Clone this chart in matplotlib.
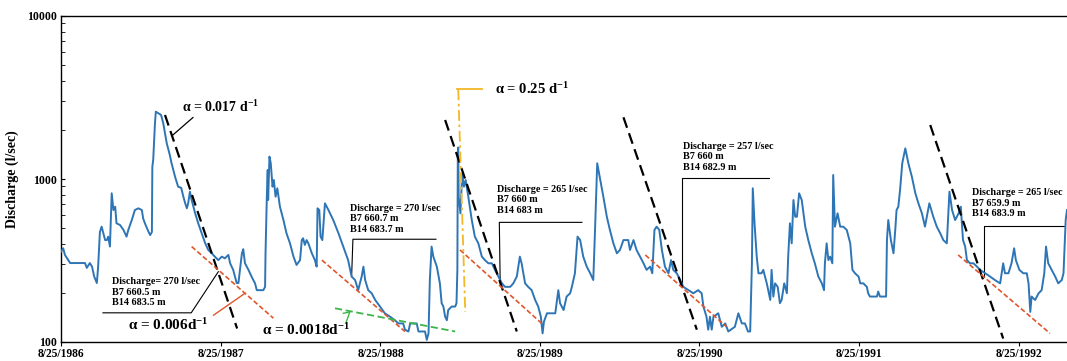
import numpy as np
import matplotlib
matplotlib.use('Agg')
import matplotlib.pyplot as plt

plt.rcParams['font.family'] = ['Liberation Serif', 'DejaVu Serif']
plt.rcParams['font.weight'] = 'bold'
plt.rcParams['mathtext.fontset'] = 'custom'
plt.rcParams['mathtext.rm'] = 'Liberation Serif:bold'
plt.rcParams['mathtext.bf'] = 'Liberation Serif:bold'
plt.rcParams['mathtext.it'] = 'Liberation Serif:italic:bold'

start = np.datetime64('1986-08-25')

# daily discharge (days after 8/25/1986, l/sec)
day = [0, 5, 9, 21, 55, 59, 66, 71, 76, 82, 85, 89, 93, 101, 105, 108, 112, 116, 120, 124,
       127, 135, 143, 150, 154, 162, 169, 177, 185, 188, 192, 200, 204, 208, 209, 211, 215, 217, 223, 229,
       234, 242, 249, 253, 261, 268, 275, 280, 284, 288, 291, 295, 299, 307, 314, 322, 330, 337, 345, 352,
       360, 368, 375, 383, 387, 394, 402, 406, 414, 417, 421, 429, 436, 444, 448, 463, 467, 468, 471, 473,
       474, 477, 480, 484, 487, 491, 495, 501, 509, 516, 524, 532, 539, 547, 551, 554, 558, 562, 566, 574,
       581, 585, 587, 591, 594, 598, 604, 612, 623, 635, 646, 657, 665, 673, 680, 688, 692, 696, 703, 711,
       719, 730, 741, 753, 764, 772, 783, 787, 795, 799, 814, 818, 833, 837, 841, 844, 848, 852, 860, 867,
       871, 875, 879, 883, 886, 894, 902, 905, 907, 908, 909, 910, 914, 918, 922, 926, 932, 940, 947, 955,
       963, 970, 978, 986, 993, 1001, 1009, 1016, 1028, 1035, 1043, 1050, 1054, 1062, 1069, 1077, 1085, 1092, 1098, 1102,
       1105, 1112, 1131, 1138, 1142, 1150, 1157, 1165, 1169, 1176, 1182, 1188, 1195, 1203, 1211, 1218, 1222, 1227, 1234, 1241,
       1249, 1256, 1264, 1272, 1279, 1287, 1298, 1302, 1310, 1317, 1325, 1333, 1340, 1348, 1353, 1358, 1363, 1369, 1375, 1382,
       1390, 1396, 1401, 1409, 1417, 1424, 1436, 1447, 1458, 1466, 1470, 1477, 1481, 1485, 1489, 1493, 1504, 1512, 1520, 1527,
       1542, 1550, 1558, 1565, 1572, 1577, 1581, 1583, 1587, 1592, 1596, 1603, 1607, 1615, 1623, 1626, 1630, 1634, 1640, 1645,
       1649, 1655, 1661, 1664, 1668, 1672, 1676, 1680, 1684, 1689, 1695, 1703, 1710, 1718, 1725, 1733, 1741, 1746, 1748, 1752,
       1756, 1760, 1765, 1767, 1771, 1777, 1783, 1790, 1798, 1806, 1811, 1817, 1825, 1829, 1836, 1844, 1847, 1851, 1867, 1870,
       1874, 1888, 1890, 1893, 1899, 1905, 1909, 1912, 1916, 1920, 1925, 1932, 1939, 1947, 1955, 1962, 1970, 1977, 1987, 1996,
       2004, 2012, 2019, 2027, 2033, 2039, 2046, 2054, 2059, 2064, 2069, 2073, 2080, 2088, 2096, 2103, 2115, 2126, 2137, 2149,
       2156, 2160, 2168, 2175, 2181, 2185, 2193, 2202, 2210, 2214, 2218, 2221, 2229, 2237, 2244, 2250, 2254, 2259, 2267, 2275,
       2282, 2290, 2294, 2299, 2302]
flow = [358, 376, 342, 305, 305, 285, 305, 290, 252, 230, 290, 473, 510, 422, 422, 443, 385, 817, 645, 676,
        535, 522, 487, 443, 487, 560, 645, 661, 645, 573, 535, 476, 453, 473, 1190, 1308, 2197, 2588, 2530, 2470,
        2197, 1656, 1403, 1248, 1033, 897, 883, 779, 712, 661, 709, 836, 743, 616, 535, 464, 403, 367, 350, 334,
        318, 334, 326, 342, 304, 277, 230, 230, 350, 371, 304, 277, 252, 229, 208, 208, 218, 350, 779, 1136,
        743, 1371, 1248, 897, 986, 779, 877, 676, 560, 464, 403, 334, 297, 318, 422, 433, 394, 422, 403, 350,
        318, 290, 661, 645, 443, 422, 709, 645, 560, 464, 385, 318, 252, 240, 208, 252, 290, 240, 208, 199,
        181, 165, 150, 143, 136, 130, 130, 119, 116, 130, 130, 116, 116, 103, 113, 240, 385, 334, 290, 229,
        173, 165, 143, 136, 157, 165, 165, 173, 277, 1420, 1560, 779, 616, 1083, 897, 986, 779, 560, 443, 403,
        334, 318, 304, 304, 277, 252, 229, 218, 218, 229, 252, 334, 304, 229, 218, 208, 181, 165, 143, 113,
        133, 150, 150, 208, 173, 157, 190, 199, 218, 264, 443, 422, 334, 290, 264, 240, 487, 1248, 986, 779,
        587, 487, 403, 350, 367, 422, 422, 367, 422, 367, 334, 304, 277, 290, 264, 487, 510, 487, 367, 290,
        264, 318, 277, 264, 240, 218, 208, 199, 208, 199, 165, 143, 119, 143, 119, 143, 150, 124, 130, 116,
        124, 150, 130, 130, 116, 116, 304, 877, 535, 334, 264, 264, 277, 229, 181, 277, 190, 229, 218, 173,
        181, 229, 199, 334, 535, 403, 743, 587, 587, 817, 743, 510, 422, 350, 304, 252, 229, 208, 304, 403,
        318, 334, 304, 1058, 510, 616, 510, 510, 487, 403, 277, 264, 252, 229, 229, 218, 199, 190, 190, 204,
        190, 190, 422, 560, 422, 350, 487, 645, 676, 857, 1248, 1541, 1248, 1033, 817, 709, 616, 510, 709, 587,
        510, 464, 422, 403, 836, 645, 560, 616, 676, 422, 385, 318, 304, 304, 290, 277, 264, 252, 240, 229,
        304, 264, 264, 304, 376, 318, 277, 264, 264, 229, 153, 190, 181, 199, 208, 264, 385, 304, 277, 252,
        229, 240, 264, 560, 645]

# recession lines (start/end day, start/end discharge)
black_days = [(238, 403), (879, 1043), (1287, 1455), (1989, 2156)]
black_q = [(2470, 121), (2301, 116), (2392, 119), (2144, 105)]
red_days = [(299, 486), (597, 787), (913, 1100), (1337, 1523), (2053, 2263)]
red_q = [(385, 140), (318, 116), (367, 130), (342, 124), (342, 113)]
green_days = (627, 902)
green_q = (161, 116)
yellow_days = (909, 925)
yellow_q = (3550, 153)

year_ticks = ['1986-08-25', '1987-08-25', '1988-08-25', '1989-08-25',
              '1990-08-25', '1991-08-25', '1992-08-25']
tick_labels = ['8/25/1986', '8/25/1987', '8/25/1988', '8/25/1989',
               '8/25/1990', '8/25/1991', '8/25/1992']


def d(n):
    return start + np.asarray(n).astype('timedelta64[D]')


fig = plt.figure(figsize=(10.67, 3.61), dpi=100)
ax = fig.add_axes([61 / 1067, 19 / 361, 1006 / 1067, 326 / 361])

ax.plot(d(day), flow, color='#2E75B6', lw=1.4, zorder=3)

for (a, b), (qa, qb) in zip(black_days, black_q):
    ax.plot(d([a, b]), [qa, qb], color='black', lw=1.6, dashes=(5, 2.6), zorder=4)
for (a, b), (qa, qb) in zip(red_days, red_q):
    ax.plot(d([a, b]), [qa, qb], color='#E0562C', lw=1.2, dashes=(3, 1.5), zorder=4)
ax.plot(d(list(green_days)), list(green_q), color='#3DB54A', lw=1.3, dashes=(4, 2), zorder=4)
ax.plot(d(list(yellow_days)), list(yellow_q), color='#F2B827', lw=1.3,
        dashes=(6, 2, 1.5, 2), zorder=4)
ax.plot(d([907, 963]), [3550, 3550], color='#F2B827', lw=1.3, zorder=4)

# alpha labels
ax.text(d(277), 2767, r'α = 0.017 d$^{-1}$', fontsize=10, va='center')
ax.plot(d([302, 256]), [2384, 1862], color='black', lw=0.9)
ax.text(d(153), 127, r'α = 0.006d$^{-1}$', fontsize=11, va='center')
ax.plot(d([349, 421]), [146, 199], color='#E0562C', lw=1.0)
ax.text(d(460), 119, r'α = 0.0018d$^{-1}$', fontsize=11, va='center')
ax.plot(d([646, 661, 652]), [150, 153, 131], color='#3DB54A', lw=1.0)
ax.text(d(993), 3550, r'α = 0.25 d$^{-1}$', fontsize=10.5, va='center')

# discharge callouts
boxes = [
    ('Discharge= 270 l/sec\nB7 660.5 m\nB14 683.5 m', 117, 250,
     [96, 298, 360], [151, 151, 270]),
    ('Discharge = 270 l/sec\nB7 660.7 m\nB14 683.7 m', 661, 703,
     [858, 668, 665], [427, 427, 252]),
    ('Discharge = 265 l/sec\nB7 660 m\nB14 683 m', 997, 919,
     [1192, 1003, 1005], [542, 542, 229]),
    ('Discharge = 257 l/sec\nB7 660 m\nB14 682.9 m', 1423, 1687,
     [1619, 1420, 1420], [1019, 1019, 218]),
    ('Discharge = 265 l/sec\nB7 659.9 m\nB14 683.9 m', 2084, 875,
     [2298, 2111, 2111], [517, 517, 252]),
]
for txt, tx, ty, lx, ly in boxes:
    ax.text(d(tx), ty, txt, fontsize=7.3, va='top', ha='left', linespacing=1.2)
    ax.plot(d(lx), ly, color='black', lw=0.8)

ax.set_yscale('log')
ax.set_ylim(100, 10000)
ax.set_xlim(d(0), d(2302))
ax.set_yticks([100, 1000, 10000])
ax.set_yticklabels(['100', '1000', '10000'], fontsize=8.5, fontweight='bold')
ax.set_xticks([np.datetime64(t) for t in year_ticks])
ax.set_xticklabels(tick_labels, fontsize=8.3, fontweight='bold')
ax.tick_params(axis='y', which='both', direction='in', length=3, pad=3)
ax.tick_params(axis='x', direction='out', length=3, pad=1)
ax.set_ylabel('Discharge (l/sec)', fontsize=10, fontweight='bold', labelpad=6)

ax.spines['right'].set_visible(False)
for sp in ['left', 'bottom', 'top']:
    ax.spines[sp].set_linewidth(1.0)

fig.savefig('out.png', dpi=100)
